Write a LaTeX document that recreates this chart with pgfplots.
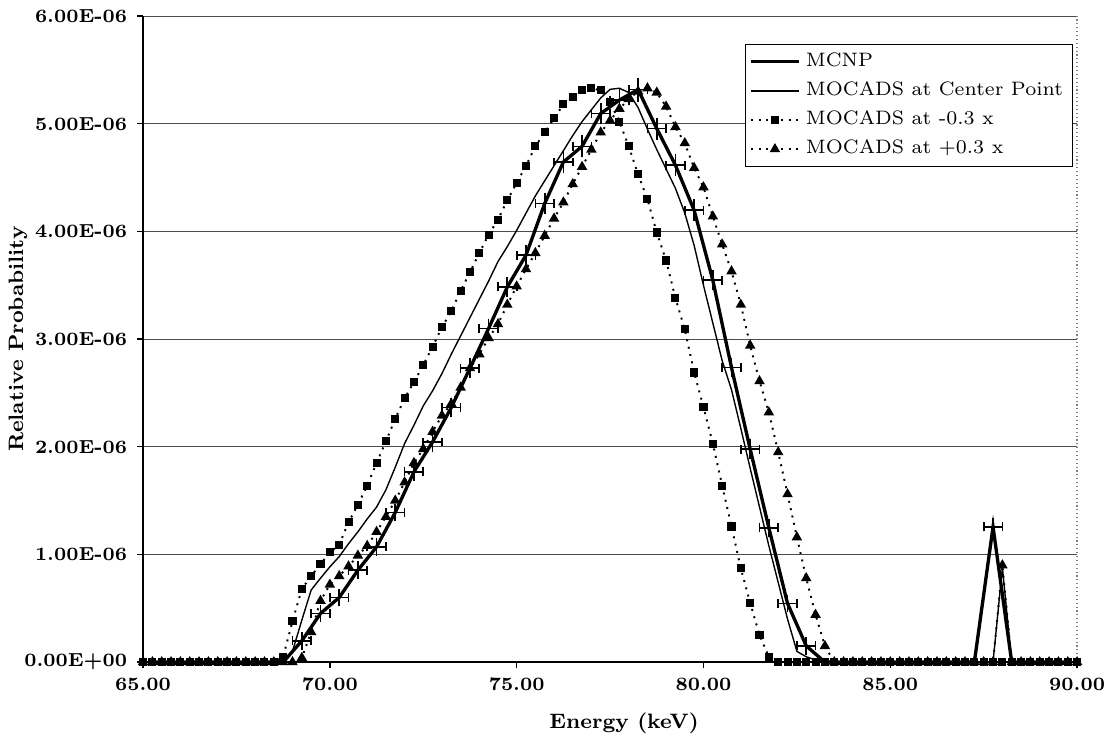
\documentclass[border=0pt]{standalone}
\usepackage{fontspec}
\usepackage{pgfplots}
\pgfplotsset{compat=1.18}
\usepackage{pgfplotstable}

% relative probability in units of 1E-06
\pgfplotstableread{
E p ex ey
65.25 0 0 0
68.75 0 0 0
69.25 0.198 0.25 0.04
69.75 0.452 0.25 0.04
70.25 0.600 0.25 0.04
70.75 0.854 0.25 0.04
71.25 1.070 0.25 0.04
71.75 1.390 0.25 0.04
72.25 1.767 0.25 0.04
72.75 2.045 0.25 0.05
73.25 2.365 0.25 0.05
73.75 2.730 0.25 0.05
74.25 3.100 0.25 0.05
74.75 3.485 0.25 0.05
75.25 3.780 0.25 0.05
75.75 4.259 0.25 0.06
76.25 4.645 0.25 0.06
76.75 4.790 0.25 0.06
77.25 5.095 0.25 0.06
77.75 5.220 0.25 0.06
78.25 5.318 0.25 0.07
78.75 4.955 0.25 0.06
79.25 4.615 0.25 0.06
79.75 4.197 0.25 0.06
80.25 3.547 0.25 0.05
80.75 2.736 0.25 0.05
81.25 1.978 0.25 0.05
81.75 1.247 0.25 0.04
82.25 0.545 0.25 0.04
82.75 0.151 0.25 0.04
83.25 0 0 0
87.25 0 0 0
87.75 1.256 0.25 0.04
88.25 0 0 0
89.75 0 0 0
}\mcnp

\pgfplotstableread{
E p
65.00 0
68.75 0
69.00 0.10
69.25 0.39
69.50 0.67
69.75 0.78
70.00 0.885
70.25 0.98
70.50 1.10
70.75 1.21
71.00 1.33
71.25 1.44
71.50 1.60
71.75 1.81
72.00 2.03
72.25 2.20
72.50 2.38
72.75 2.52
73.00 2.68
73.25 2.86
73.50 3.03
73.75 3.20
74.00 3.37
74.25 3.54
74.50 3.72
74.75 3.86
75.00 4.01
75.25 4.17
75.50 4.33
75.75 4.47
76.00 4.61
76.25 4.75
76.50 4.89
76.75 5.02
77.00 5.13
77.25 5.24
77.50 5.32
77.75 5.33
78.00 5.29
78.25 5.15
78.50 4.95
78.75 4.76
79.00 4.58
79.25 4.40
79.50 4.17
79.75 3.87
80.00 3.50
80.25 3.15
80.50 2.80
80.75 2.53
81.00 2.17
81.25 1.80
81.50 1.44
81.75 1.08
82.00 0.74
82.25 0.40
82.50 0.10
82.75 0.05
83.00 0.02
83.25 0
87.75 0
88.00 0.88
88.25 0
90.00 0
}\center

\pgfplotstableread{
E p
65.00 0
65.25 0
65.50 0
65.75 0
66.00 0
66.25 0
66.50 0
66.75 0
67.00 0
67.25 0
67.50 0
67.75 0
68.00 0
68.25 0
68.50 0
68.75 0.05
69.00 0.38
69.25 0.68
69.50 0.80
69.75 0.91
70.00 1.02
70.25 1.09
70.50 1.30
70.75 1.46
71.00 1.64
71.25 1.85
71.50 2.05
71.75 2.26
72.00 2.45
72.25 2.60
72.50 2.76
72.75 2.93
73.00 3.11
73.25 3.26
73.50 3.45
73.75 3.62
74.00 3.80
74.25 3.97
74.50 4.11
74.75 4.29
75.00 4.45
75.25 4.61
75.50 4.79
75.75 4.92
76.00 5.05
76.25 5.18
76.50 5.25
76.75 5.31
77.00 5.33
77.25 5.31
77.50 5.20
77.75 5.02
78.00 4.79
78.25 4.53
78.50 4.30
78.75 3.99
79.00 3.73
79.25 3.38
79.50 3.09
79.75 2.69
80.00 2.37
80.25 2.03
80.50 1.64
80.75 1.26
81.00 0.87
81.25 0.55
81.50 0.25
81.75 0.05
82.00 0
82.25 0
82.50 0
82.75 0
83.00 0
83.25 0
83.50 0
83.75 0
84.00 0
84.25 0
84.50 0
84.75 0
85.00 0
85.25 0
85.50 0
85.75 0
86.00 0
86.25 0
86.50 0
86.75 0
87.00 0
87.25 0
87.50 0
87.75 0
88.00 0
88.25 0
88.50 0
88.75 0
89.00 0
89.25 0
89.50 0
89.75 0
90.00 0
}\minus

\pgfplotstableread{
E p
65.00 0
65.25 0
65.50 0
65.75 0
66.00 0
66.25 0
66.50 0
66.75 0
67.00 0
67.25 0
67.50 0
67.75 0
68.00 0
68.25 0
68.50 0
68.75 0
69.00 0
69.25 0.04
69.50 0.28
69.75 0.57
70.00 0.72
70.25 0.80
70.50 0.89
70.75 0.99
71.00 1.08
71.25 1.21
71.50 1.35
71.75 1.50
72.00 1.67
72.25 1.85
72.50 1.98
72.75 2.14
73.00 2.29
73.25 2.40
73.50 2.55
73.75 2.73
74.00 2.86
74.25 3.01
74.50 3.14
74.75 3.32
75.00 3.49
75.25 3.65
75.50 3.80
75.75 3.96
76.00 4.12
76.25 4.27
76.50 4.44
76.75 4.60
77.00 4.76
77.25 4.92
77.50 5.03
77.75 5.14
78.00 5.23
78.25 5.30
78.50 5.33
78.75 5.29
79.00 5.16
79.25 4.97
79.50 4.82
79.75 4.59
80.00 4.41
80.25 4.14
80.50 3.88
80.75 3.63
81.00 3.32
81.25 2.94
81.50 2.61
81.75 2.32
82.00 1.95
82.25 1.56
82.50 1.16
82.75 0.78
83.00 0.44
83.25 0.15
83.50 0
83.75 0
84.00 0
84.25 0
84.50 0
84.75 0
85.00 0
85.25 0
85.50 0
85.75 0
86.00 0
86.25 0
86.50 0
86.75 0
87.00 0
87.25 0
87.50 0
87.75 0
88.00 0.90
88.25 0
88.50 0
88.75 0
89.00 0
89.25 0
89.50 0
89.75 0
90.00 0
}\plus

\begin{document}
\begin{tikzpicture}
\begin{axis}[
  width=336.3pt, height=232.6pt, scale only axis,
  xmin=65, xmax=90, ymin=0, ymax=6,
  clip=false,
  axis x line*=bottom, axis y line*=left,
  axis line style={black, line width=0.6pt, -},
  tick align=outside, major tick length=2.2pt,
  tick style={black, line width=0.5pt},
  xtick={65,70,75,80,85,90},
  xticklabels={65.00,70.00,75.00,80.00,85.00,90.00},
  ytick={0,1,2,3,4,5,6},
  yticklabels={0.00E+00,1.00E-06,2.00E-06,3.00E-06,4.00E-06,5.00E-06,6.00E-06},
  ticklabel style={font=\fontsize{6.8}{8}\selectfont\bfseries},
  ymajorgrids, grid style={black!70, line width=0.4pt},
  extra x ticks={90}, extra x tick labels={},
  extra x tick style={grid=major, major tick length=0pt,
    grid style={gray, densely dotted, line width=0.5pt}},
  every axis x label/.style={at={(axis description cs:0.515,0)}, yshift=-22pt, anchor=center},
  every axis y label/.style={at={(axis description cs:0,0.5)}, xshift=-45pt, rotate=90, anchor=center},
  label style={font=\fontsize{7.5}{9}\selectfont\bfseries},
  xlabel={Energy (keV)},
  ylabel={Relative Probability},
  legend cell align=left,
  legend style={at={(0.996,0.957)}, anchor=north east, draw=black, line width=0.5pt,
    font=\fontsize{7.0}{8}\selectfont, row sep=0pt, inner xsep=1.5pt, inner ysep=1pt},
]
\coordinate (sw) at (rel axis cs:0,0);
\coordinate (ne) at (rel axis cs:1,1);

\addplot[black, line width=1.2pt, mark=none] table[x=E, y=p] {\mcnp};
\addlegendentry{MCNP}

\addplot[black, line width=0.5pt, mark=none] table[x=E, y=p] {\center};
\addlegendentry{MOCADS at Center Point}

\addplot[black, line width=0.7pt, dotted, mark=square*, mark size=1.1pt,
  mark options={solid}] table[x=E, y=p] {\minus};
\addlegendentry{MOCADS at -0.3 x}

\addplot[black, line width=0.7pt, dotted, mark=triangle*, mark size=1.5pt,
  mark options={solid}] table[x=E, y=p] {\plus};
\addlegendentry{MOCADS at +0.3 x}

% MCNP error bars on the non-zero points: energy bins
\addplot[forget plot, draw=none, mark=none,
  error bars/.cd, x dir=both, x explicit,
  error bar style={draw=black, solid, line width=0.6pt},
  error mark options={draw=black, solid, line width=0.6pt, mark size=1.6pt, rotate=90}]
  table[x=E, y=p, x error=ex,
        restrict expr to domain={\thisrow{p}}{0.01:10}] {\mcnp};
% MCNP error bars: statistical uncertainty
\addplot[forget plot, draw=none, mark=none,
  error bars/.cd, y dir=both, y explicit,
  error bar style={draw=black, solid, line width=0.6pt},
  error mark options={draw=black, solid, line width=0.6pt, mark size=1.6pt}]
  table[x=E, y=p, y error=ey,
        restrict expr to domain={\thisrow{p}}{0.01:10}] {\mcnp};
\end{axis}
\pgfresetboundingbox
\path[use as bounding box] ([shift={(-51.5pt,-28.8pt)}]sw) rectangle ([shift={(12.2pt,5.8pt)}]ne);
\end{tikzpicture}
\end{document}
